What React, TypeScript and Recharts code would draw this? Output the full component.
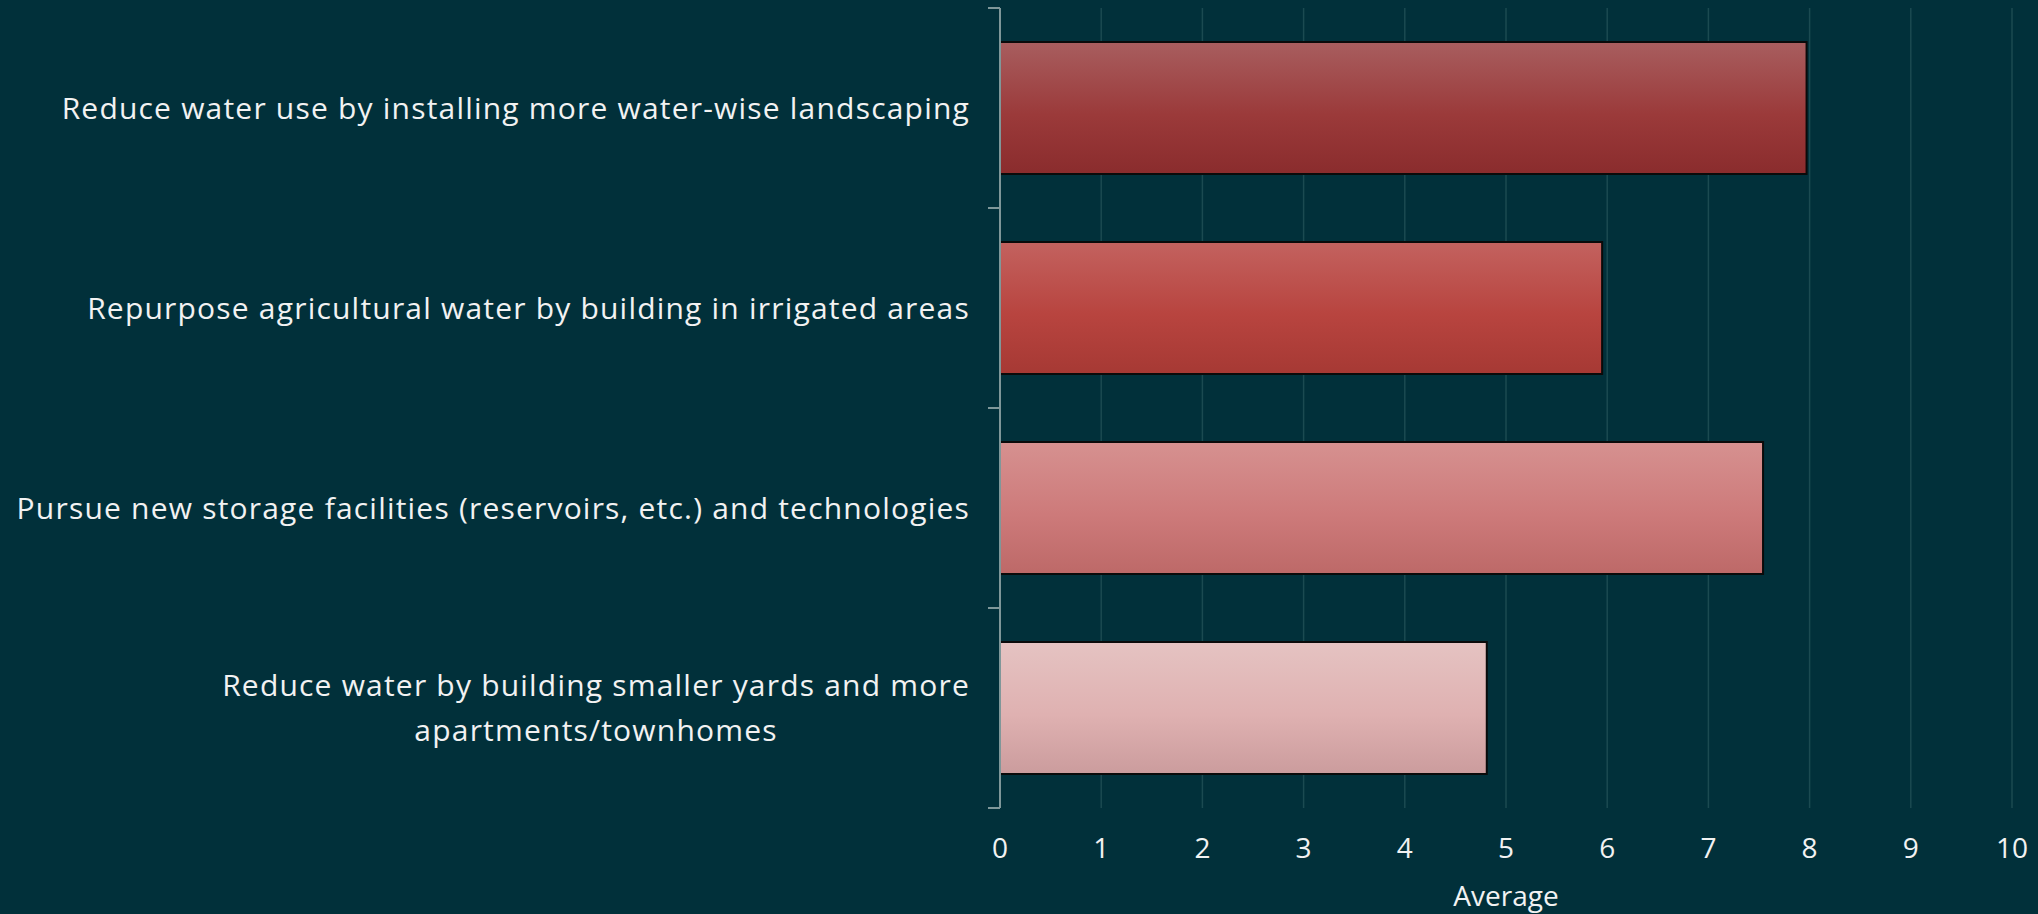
import { BarChart, Bar, XAxis, YAxis, CartesianGrid, Cell, Label } from 'recharts';

// survey items, top to bottom ("\n" marks where the label wraps)
const categories = [
  'Reduce water use by installing more water-wise landscaping',
  'Repurpose agricultural water by building in irrigated areas',
  'Pursue new storage facilities (reservoirs, etc.) and technologies',
  'Reduce water by building smaller yards and more\napartments/townhomes',
];
const averages = [7.97, 5.95, 7.54, 4.81];
const xTicks = [0, 1, 2, 3, 4, 5, 6, 7, 8, 9, 10];

const data = categories.map((name, i) => ({ name, value: averages[i] }));

// top / middle / bottom shades of each bar
const barShades = [
  ['#a85e5f', '#9b3a3a', '#8a2c2d'],
  ['#c3625f', '#b8443f', '#a63934'],
  ['#d69190', '#cd7a7a', '#bd6968'],
  ['#e5c3c2', '#dfb1b1', '#cb9c9d'],
];

const BG = '#01303a';
const TEXT = '#f2f2f2';
const AXIS = '#7f9799';
const LABEL_SIZE = 30;
const LABEL_SPACING = 1.2;
const LABEL_GAP = 30;
const TICK_LEN = 12;
const TICK_SIZE = 28;
const FONT_FAMILY = '"Open Sans", sans-serif';

let ctx: any = null;
function textWidth(s: string) {
  if (!ctx) ctx = document.createElement('canvas').getContext('2d');
  if (!ctx) return s.length * LABEL_SIZE * 0.55;
  ctx.font = `${LABEL_SIZE}px ${FONT_FAMILY}`;
  if ('letterSpacing' in ctx) {
    ctx.letterSpacing = `${LABEL_SPACING}px`;
    return ctx.measureText(s).width;
  }
  return ctx.measureText(s).width + s.length * LABEL_SPACING;
}

// right-aligned block, lines centred inside it, plus the tick marks that
// Excel puts on the band edges instead of the band centres
function CategoryTick(props: any) {
  const { x, y, payload, index, visibleTicksCount } = props;
  const lines = String(payload.value).split('\n');
  const widest = Math.max(...lines.map(textWidth));
  const lineHeight = 45;
  const top = y - ((lines.length - 1) * lineHeight) / 2;
  const axisX = x + LABEL_GAP;
  const half = payload.offset || 0;
  const edges = [y - half];
  if (index === visibleTicksCount - 1) edges.push(y + half);
  return (
    <g>
      {edges.map((ey, i) => (
        <line key={`t${i}`} x1={axisX - TICK_LEN} x2={axisX} y1={ey} y2={ey} stroke={AXIS} strokeWidth={2} />
      ))}
      {lines.map((line, i) => (
        <text
          key={i}
          x={x - widest / 2}
          y={top + i * lineHeight}
          dy="0.35em"
          textAnchor="middle"
          fill={TEXT}
          fontSize={LABEL_SIZE}
          fontFamily={FONT_FAMILY}
          letterSpacing={LABEL_SPACING}
        >
          {line}
        </text>
      ))}
    </g>
  );
}

export default function App() {
  return (
    <div style={{ position: 'absolute', left: 0, top: 0, width: 2038, height: 914, background: BG }}>
      <BarChart
        layout="vertical"
        width={2038}
        height={914}
        data={data}
        margin={{ top: 8, right: 26, bottom: 0, left: 0 }}
        barCategoryGap="17%"
      >
        <defs>
          {barShades.map((s, i) => (
            <linearGradient key={i} id={`shade${i}`} x1="0" y1="0" x2="0" y2="1">
              <stop offset="0%" stopColor={s[0]} />
              <stop offset="55%" stopColor={s[1]} />
              <stop offset="100%" stopColor={s[2]} />
            </linearGradient>
          ))}
        </defs>
        <CartesianGrid horizontal={false} stroke="#1b4a51" strokeWidth={1.5} />
        <XAxis
          type="number"
          domain={[0, 10]}
          ticks={xTicks}
          axisLine={false}
          tickLine={false}
          tickSize={0}
          tickMargin={30}
          height={106}
          interval={0}
          tick={{ fill: TEXT, fontSize: TICK_SIZE, fontFamily: FONT_FAMILY }}
        >
          <Label
            value="Average"
            position="insideBottom"
            offset={8}
            fill={TEXT}
            fontSize={TICK_SIZE}
            fontFamily={FONT_FAMILY}
          />
        </XAxis>
        <YAxis
          type="category"
          dataKey="name"
          width={1000}
          axisLine={{ stroke: AXIS, strokeWidth: 2 }}
          tickLine={false}
          tickSize={0}
          tickMargin={LABEL_GAP}
          interval={0}
          tick={<CategoryTick />}
        />
        <Bar dataKey="value" stroke="#0a0a0a" strokeWidth={2} isAnimationActive={false}>
          {data.map((_, i) => (
            <Cell key={i} fill={`url(#shade${i})`} />
          ))}
        </Bar>
      </BarChart>
    </div>
  );
}
